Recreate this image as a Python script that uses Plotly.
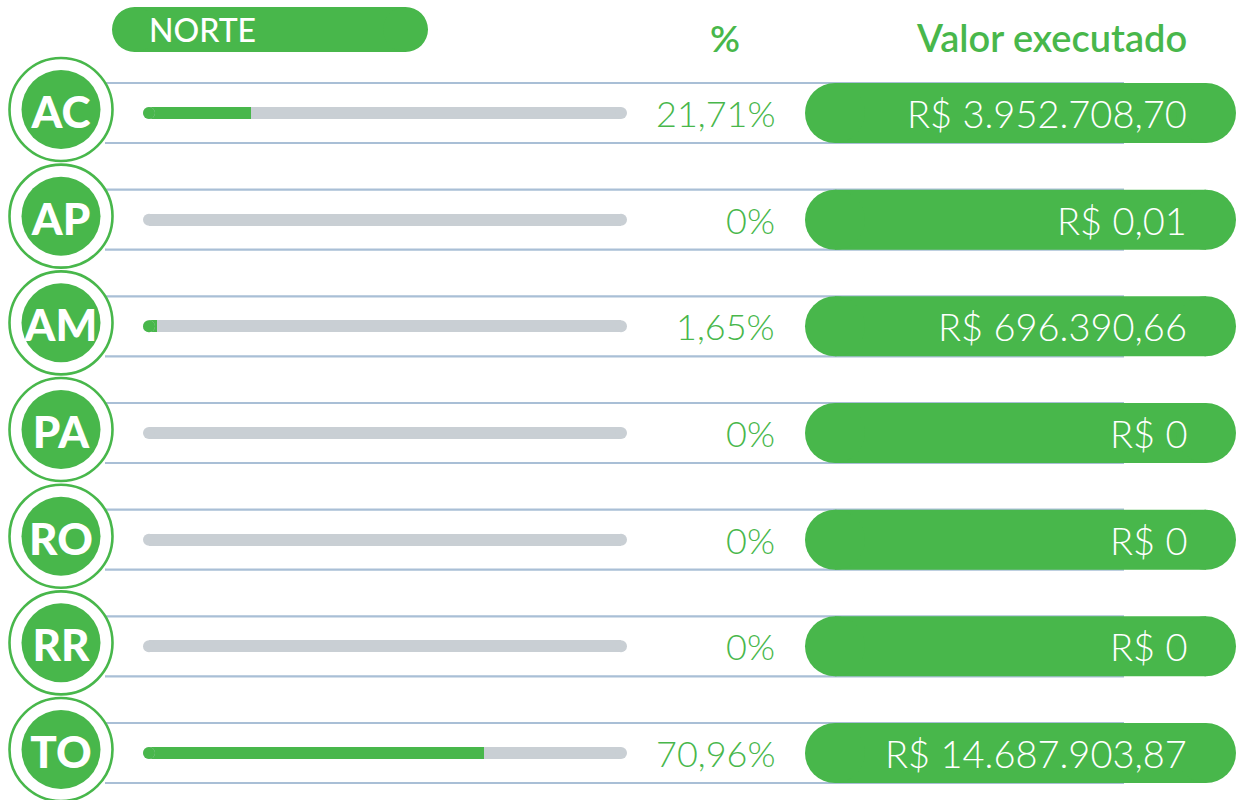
import plotly.graph_objects as go

# ---------------- data ----------------
states = ["AC", "AP", "AM", "PA", "RO", "RR", "TO"]
pct_values = [21.71, 0.0, 1.65, 0.0, 0.0, 0.0, 70.96]
pct_labels = ["21,71%", "0%", "1,65%", "0%", "0%", "0%", "70,96%"]
value_labels = ["R$ 3.952.708,70", "R$ 0,01", "R$ 696.390,66", "R$ 0",
                "R$ 0", "R$ 0", "R$ 14.687.903,87"]
region_title = "NORTE"
header_pct = "%"
header_value = "Valor executado"

# ---------------- style ----------------
GREEN = "#48b74b"
GREY = "#c9cfd4"
RULE = "#a9bfd6"
W, H = 1237, 800
ROW0 = 113.0          # pixel centre of first row
ROWS = 106.67         # pixel spacing between rows


def py(p):
    """pixel (from top) -> y axis units"""
    return (p - ROW0) / ROWS


def dy(p):
    """pixel length -> y axis units"""
    return p / ROWS


idx = list(range(len(states)))
fig = go.Figure()

# progress bar background (x axis: 0..100 %)
fig.add_trace(go.Bar(
    y=idx, x=[100] * len(states), orientation="h", width=dy(12),
    marker=dict(color=GREY, line=dict(width=0)), xaxis="x", yaxis="y",
    hoverinfo="skip", cliponaxis=False, showlegend=False))
fig.add_trace(go.Scatter(
    x=[0] * len(states) + [100] * len(states), y=idx + idx, mode="markers",
    marker=dict(size=12, color=GREY, line=dict(width=0)),
    xaxis="x", yaxis="y", cliponaxis=False, hoverinfo="skip", showlegend=False))
# progress value
fig.add_trace(go.Bar(
    y=idx, x=pct_values, orientation="h", width=dy(12),
    marker=dict(color=GREEN, line=dict(width=0)), xaxis="x", yaxis="y",
    hoverinfo="skip", cliponaxis=False, showlegend=False))
nz = [i for i, v in zip(idx, pct_values) if v > 0]
fig.add_trace(go.Scatter(
    x=[0] * len(nz), y=nz, mode="markers",
    marker=dict(size=12, color=GREEN, line=dict(width=0)),
    xaxis="x", yaxis="y", cliponaxis=False, hoverinfo="skip", showlegend=False))

shapes = []
# horizontal rules
for i in idx:
    for off in (-30, 30):
        shapes.append(dict(type="line", xref="x2", yref="y", x0=105, x1=1124,
                           y0=i + dy(off), y1=i + dy(off),
                           line=dict(color=RULE, width=2.2), layer="below"))
# value pills
for i in idx:
    r = 30
    shapes.append(dict(type="rect", xref="x2", yref="y", x0=805 + r, x1=1236 - r,
                       y0=i - dy(r), y1=i + dy(r), fillcolor=GREEN,
                       line=dict(width=0), layer="above"))
    for cx in (805 + r, 1236 - r):
        shapes.append(dict(type="circle", xref="x2", yref="y", x0=cx - r, x1=cx + r,
                           y0=i - dy(r), y1=i + dy(r), fillcolor=GREEN,
                           line=dict(width=0), layer="above"))
# title pill
r = 22.5
shapes.append(dict(type="rect", xref="x2", yref="y", x0=112 + r, x1=428 - r,
                   y0=py(29.5) - dy(r), y1=py(29.5) + dy(r), fillcolor=GREEN,
                   line=dict(width=0)))
for cx in (112 + r, 428 - r):
    shapes.append(dict(type="circle", xref="x2", yref="y", x0=cx - r, x1=cx + r,
                       y0=py(29.5) - dy(r), y1=py(29.5) + dy(r), fillcolor=GREEN,
                       line=dict(width=0)))

# state circles
cy = [i + dy(-3.5) for i in idx]
fig.add_trace(go.Scatter(
    x=[61] * len(states), y=cy, mode="markers",
    marker=dict(size=103, color="white", line=dict(color=GREEN, width=2.6)),
    xaxis="x2", yaxis="y", cliponaxis=False, hoverinfo="skip", showlegend=False))
fig.add_trace(go.Scatter(
    x=[61] * len(states), y=cy, mode="markers",
    marker=dict(size=79, color=GREEN, line=dict(width=0)),
    xaxis="x2", yaxis="y", cliponaxis=False, hoverinfo="skip", showlegend=False))
fig.add_trace(go.Scatter(
    x=[61] * len(states), y=[i + dy(4) for i in idx], mode="text", text=states,
    textposition="middle center",
    textfont=dict(family="Lato", size=44, color="white", weight=900),
    xaxis="x2", yaxis="y", cliponaxis=False, hoverinfo="skip", showlegend=False))

annotations = []
for i in idx:
    annotations.append(dict(xref="x2", yref="y", x=777, y=i, text=pct_labels[i],
                            xanchor="right", yanchor="middle", showarrow=False,
                            font=dict(family="Lato", size=36, color=GREEN, weight=300)))
    annotations.append(dict(xref="x2", yref="y", x=1189, y=i, text=value_labels[i],
                            xanchor="right", yanchor="middle", showarrow=False,
                            font=dict(family="Lato", size=38, color="white", weight=300)))
annotations.append(dict(xref="x2", yref="y", x=147, y=py(29), text=region_title,
                        xanchor="left", yanchor="middle", showarrow=False,
                        font=dict(family="Lato", size=32, color="white", weight=500)))
annotations.append(dict(xref="x2", yref="y", x=725, y=py(37), text=header_pct,
                        xanchor="center", yanchor="middle", showarrow=False,
                        font=dict(family="Lato", size=37, color=GREEN, weight=600)))
annotations.append(dict(xref="x2", yref="y", x=1189, y=py(37), text=header_value,
                        xanchor="right", yanchor="middle", showarrow=False,
                        font=dict(family="Lato", size=38, color=GREEN, weight=600)))

fig.update_layout(
    width=W, height=H, margin=dict(l=0, r=0, t=0, b=0),
    paper_bgcolor="white", plot_bgcolor="rgba(0,0,0,0)",
    barmode="overlay", bargap=0, showlegend=False,
    xaxis=dict(domain=[149 / W, 621 / W], range=[0, 100], visible=False,
               fixedrange=True, anchor="y"),
    xaxis2=dict(domain=[0, 1], range=[0, W], visible=False, fixedrange=True,
                anchor="y"),
    yaxis=dict(range=[py(H), py(0)], visible=False, fixedrange=True),
    shapes=shapes, annotations=annotations,
)

fig.write_html("out.html", config={"displayModeBar": False},
               post_script="document.body.style.margin='0';")
